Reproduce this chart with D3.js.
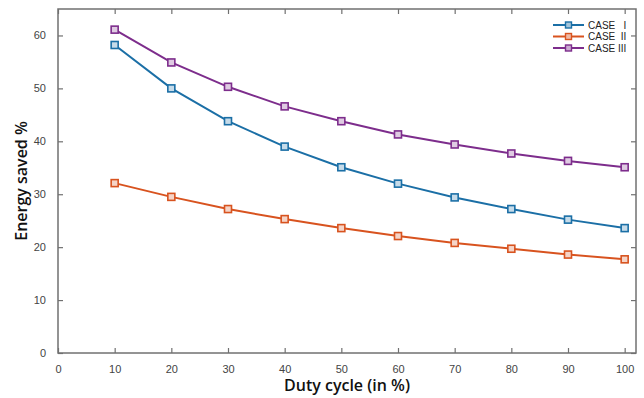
<!DOCTYPE html>
<html><head><meta charset="utf-8">
<script src="https://cdn.jsdelivr.net/npm/d3@7"></script>
<style>
body{margin:0;background:#fff;}
svg{display:block;}
</style></head>
<body>
<svg id="chart" width="644" height="398"></svg>
<script>
const dutyCycle = [10,20,30,40,50,60,70,80,90,100];
const case1 = [58.2,50.0,43.8,39.0,35.1,32.0,29.4,27.2,25.2,23.6];
const case2 = [32.1,29.5,27.2,25.3,23.6,22.1,20.8,19.7,18.6,17.7];
const case3 = [61.1,54.9,50.3,46.6,43.8,41.3,39.4,37.7,36.3,35.1];
const seriesNames = ["CASE   I","CASE  II","CASE III"];
const seriesColors = ["#1b6fa6","#d8531f","#7d2d8c"];
const xTicks = [0,10,20,30,40,50,60,70,80,90,100];
const yTicks = [0,10,20,30,40,50,60];

const svg = d3.select("#chart");
const L=58, R=636, T=9, B=353;
const x = d3.scaleLinear().domain([0,102]).range([L,R]);
const y = d3.scaleLinear().domain([0,65]).range([B,T]);

svg.append("rect").attr("width",644).attr("height",398).attr("fill","#fff");

const axisColor="#707070";
const tickFont="Liberation Sans, Arial, sans-serif";
function styleAxis(g){
  g.selectAll(".domain").remove();
  g.selectAll("line").attr("stroke",axisColor).attr("stroke-width",1.2);
  g.selectAll("text").attr("fill","#444").attr("font-size",11).attr("font-family",tickFont);
}
// bottom
svg.append("g").attr("transform",`translate(0,${B})`)
  .call(d3.axisBottom(x).tickValues(xTicks).tickSizeInner(-5).tickSizeOuter(0).tickPadding(12))
  .call(styleAxis);
// left
svg.append("g").attr("transform",`translate(${L},0)`)
  .call(d3.axisLeft(y).tickValues(yTicks).tickSizeInner(-5).tickSizeOuter(0).tickPadding(12))
  .call(styleAxis);
// top
svg.append("g").attr("transform",`translate(0,${T})`)
  .call(d3.axisTop(x).tickValues(xTicks).tickSizeInner(-5).tickSizeOuter(0).tickFormat(""))
  .call(styleAxis);
// right
svg.append("g").attr("transform",`translate(${R},0)`)
  .call(d3.axisRight(y).tickValues(yTicks).tickSizeInner(-5).tickSizeOuter(0).tickFormat(""))
  .call(styleAxis);
// box
svg.append("rect").attr("x",L).attr("y",T).attr("width",R-L).attr("height",B-T)
  .attr("fill","none").attr("stroke",axisColor).attr("stroke-width",1.5);

const allSeries=[case1,case2,case3];
const line=d3.line().x((d,i)=>x(dutyCycle[i])).y(d=>y(d));
allSeries.forEach((s,k)=>{
  svg.append("path").datum(s).attr("d",line).attr("fill","none")
    .attr("stroke",seriesColors[k]).attr("stroke-width",2);
  svg.selectAll(null).data(s).enter().append("rect")
    .attr("x",(d,i)=>x(dutyCycle[i])-3.5).attr("y",d=>y(d)-3.5)
    .attr("width",7).attr("height",7)
    .attr("fill",d3.interpolateRgb(seriesColors[k],"#fff")(0.75))
    .attr("stroke",seriesColors[k]).attr("stroke-width",1.6);
});

// legend
const lg=svg.append("g");
seriesNames.forEach((n,k)=>{
  const yy=25+k*11.5;
  lg.append("line").attr("x1",553).attr("x2",584).attr("y1",yy).attr("y2",yy)
    .attr("stroke",seriesColors[k]).attr("stroke-width",2);
  lg.append("rect").attr("x",565.5).attr("y",yy-3).attr("width",6).attr("height",6)
    .attr("fill",d3.interpolateRgb(seriesColors[k],"#fff")(0.6))
    .attr("stroke",seriesColors[k]).attr("stroke-width",1.4);
  lg.append("text").attr("x",588).attr("y",yy+3.5).text(n)
    .attr("font-family",tickFont).attr("font-size",10).attr("fill","#222")
    .attr("xml:space","preserve").style("white-space","pre");
});

// axis labels
svg.append("text").attr("x",(L+R)/2).attr("y",391).attr("text-anchor","middle")
  .attr("font-family","Open Sans, Noto Sans, sans-serif").attr("font-size",16).attr("font-weight",600)
  .attr("fill","#111").text("Duty cycle (in %)");
svg.append("text").attr("transform",`translate(27,${(T+B)/2}) rotate(-90)`).attr("text-anchor","middle")
  .attr("font-family","Open Sans, Noto Sans, sans-serif").attr("font-size",16).attr("font-weight",600)
  .attr("fill","#111").text("Energy saved %");
</script>
</body></html>
